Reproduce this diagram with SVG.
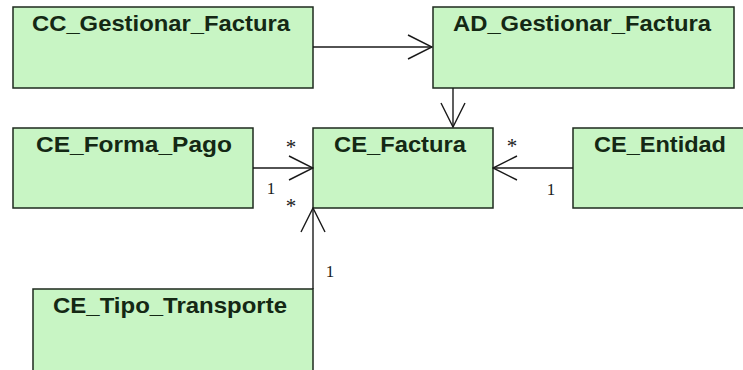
<svg xmlns="http://www.w3.org/2000/svg" width="743" height="370" viewBox="0 0 743 370">
  <style>
    .box { fill: #c8f5c4; stroke: #1e2a1e; stroke-width: 1.5; }
    .name { font-family: "Liberation Sans", Arial, sans-serif; font-weight: bold; font-size: 22px; fill: #142814; text-anchor: middle; }
    .edge { stroke: #1a1a1a; stroke-width: 1.4; fill: none; }
    .mult { font-family: "Liberation Serif", "Times New Roman", serif; font-size: 17px; fill: #1a1a1a; text-anchor: middle; }
    .star { font-family: "Liberation Serif", "Times New Roman", serif; font-size: 21px; fill: #1a1a1a; text-anchor: middle; }
  </style>
  <defs>
    <marker id="open" viewBox="0 0 26 26" refX="25" refY="13" markerWidth="26" markerHeight="26" markerUnits="userSpaceOnUse" orient="auto">
      <polyline points="1,1 25,13 1,25" fill="none" stroke="#1a1a1a" stroke-width="1.4"/>
    </marker>
  </defs>
  <rect width="743" height="370" fill="#ffffff"/>

  <g id="CC_Gestionar_Factura">
    <rect class="box" x="13" y="7" width="300" height="81"/>
    <text class="name" x="161" y="31" textLength="258" lengthAdjust="spacingAndGlyphs">CC_Gestionar_Factura</text>
  </g>
  <g id="AD_Gestionar_Factura">
    <rect class="box" x="433" y="7" width="301" height="81"/>
    <text class="name" x="582" y="31" textLength="258" lengthAdjust="spacingAndGlyphs">AD_Gestionar_Factura</text>
  </g>
  <g id="CE_Forma_Pago">
    <rect class="box" x="13" y="128" width="240" height="80"/>
    <text class="name" x="134" y="152" textLength="196" lengthAdjust="spacingAndGlyphs">CE_Forma_Pago</text>
  </g>
  <g id="CE_Factura">
    <rect class="box" x="313" y="128" width="180" height="80"/>
    <text class="name" x="400" y="152" textLength="132" lengthAdjust="spacingAndGlyphs">CE_Factura</text>
  </g>
  <g id="CE_Entidad">
    <rect class="box" x="573" y="128" width="180" height="80"/>
    <text class="name" x="660" y="152" textLength="132" lengthAdjust="spacingAndGlyphs">CE_Entidad</text>
  </g>
  <g id="CE_Tipo_Transporte">
    <rect class="box" x="33" y="289" width="280" height="95"/>
    <text class="name" x="170" y="313" textLength="234" lengthAdjust="spacingAndGlyphs">CE_Tipo_Transporte</text>
  </g>

  <g id="connectors">
    <line class="edge" x1="313" y1="47" x2="432" y2="47" marker-end="url(#open)"/>
    <line class="edge" x1="453" y1="88" x2="453" y2="127" marker-end="url(#open)"/>
    <line class="edge" x1="253" y1="168" x2="313" y2="168" marker-end="url(#open)"/>
    <line class="edge" x1="573" y1="168" x2="493" y2="168" marker-end="url(#open)"/>
    <line class="edge" x1="313" y1="289" x2="313" y2="208" marker-end="url(#open)"/>
    <text class="star" x="291" y="154">*</text>
    <text class="mult" x="271" y="194">1</text>
    <text class="star" x="291" y="213">*</text>
    <text class="star" x="512" y="153">*</text>
    <text class="mult" x="551" y="195">1</text>
    <text class="mult" x="330" y="277">1</text>
  </g>
</svg>
